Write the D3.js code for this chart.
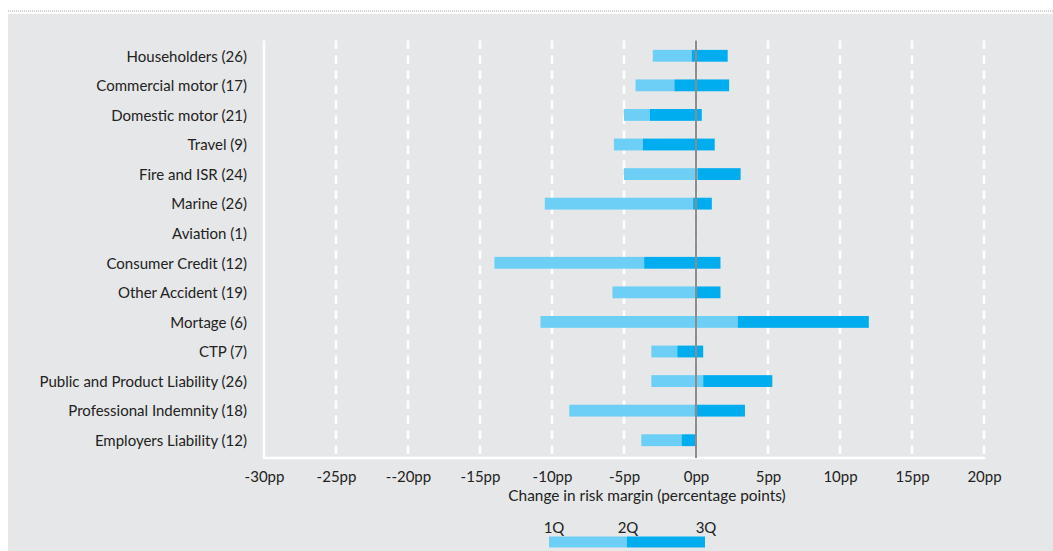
<!DOCTYPE html>
<html>
<head>
<meta charset="utf-8">
<script src="https://cdn.jsdelivr.net/npm/d3@7"></script>
<style>
  html, body { margin: 0; padding: 0; background: #ffffff; }
  svg { display: block; }
  text { font-family: Lato, "Open Sans", sans-serif; fill: #222222; }
</style>
</head>
<body>
<svg id="chart" width="1053" height="551"></svg>
<script>
// Lines of business (number of insurers in brackets), top to bottom
const categories = [
  "Householders (26)", "Commercial motor (17)", "Domestic motor (21)", "Travel (9)",
  "Fire and ISR (24)", "Marine (26)", "Aviation (1)", "Consumer Credit (12)",
  "Other Accident (19)", "Mortage (6)", "CTP (7)", "Public and Product Liability (26)",
  "Professional Indemnity (18)", "Employers Liability (12)"
];
// Change in risk margin, percentage points: first quartile, median, third quartile
const q1 = [-3.0, -4.2, -5.0, -5.7, -5.0, -10.5, null, -14.0, -5.8, -10.8, -3.1, -3.1, -8.8, -3.8];
const q2 = [-0.3, -1.5, -3.2, -3.7,  0.1,  -0.2, null,  -3.6,  0.0,   2.9, -1.3,  0.5, -0.1, -1.0];
const q3 = [ 2.2,  2.3,  0.4,  1.3,  3.1,   1.1, null,   1.7,  1.7,  12.0,  0.5,  5.3,  3.4,  0.0];

const tickValues = [-30, -25, -20, -15, -10, -5, 0, 5, 10, 15, 20];
const tickLabels = ["-30pp", "-25pp", "--20pp", "-15pp", "-10pp", "-5pp", "0pp", "5pp", "10pp", "15pp", "20pp"];
const legendLabels = ["1Q", "2Q", "3Q"];

const LIGHT = "#6dcff6", DARK = "#00aeef";

const svg = d3.select("#chart");
const W = 1053, H = 551;

// panel background and dotted rule above it
svg.append("rect").attr("x", 8).attr("y", 14).attr("width", W - 8).attr("height", H - 14).attr("fill", "#e6e7e8");
svg.append("line").attr("x1", 8).attr("x2", W).attr("y1", 11).attr("y2", 11)
  .attr("stroke", "#a6a6a6").attr("stroke-width", 1).attr("stroke-dasharray", "1,1");

const x = d3.scaleLinear().domain([-30, 20]).range([264, 984]);
const y = d3.scalePoint().domain(categories).range([41, 455]).padding(0.5);
const barH = y.step() * 0.4;
const plotTop = 40.5, plotBase = 458;

// dashed vertical gridlines
svg.append("g").selectAll("line").data(tickValues.slice(1)).join("line")
  .attr("x1", d => x(d)).attr("x2", d => x(d))
  .attr("y1", plotTop).attr("y2", plotBase)
  .attr("stroke", "#ffffff").attr("stroke-width", 2.5).attr("stroke-dasharray", "8.5,6.5");

// axis frame: left and bottom solid white lines
svg.append("line").attr("x1", x(-30)).attr("x2", x(-30)).attr("y1", plotTop).attr("y2", plotBase)
  .attr("stroke", "#ffffff").attr("stroke-width", 2.5);
svg.append("line").attr("x1", x(-30) - 1.25).attr("x2", x(20) + 1.25).attr("y1", plotBase).attr("y2", plotBase)
  .attr("stroke", "#ffffff").attr("stroke-width", 2.5);

// bottom axis labels
const xAxis = d3.axisBottom(x).tickValues(tickValues).tickSize(0).tickPadding(0)
  .tickFormat((d, i) => tickLabels[i]);
const gx = svg.append("g").attr("transform", `translate(0,${plotBase})`).call(xAxis);
gx.select(".domain").remove();
gx.selectAll("text").attr("dy", null).attr("y", 23.5).style("font-size", "15px").attr("fill", "#222222");

svg.append("text").attr("x", 647).attr("y", 500.5).attr("text-anchor", "middle")
  .style("font-size", "15.4px").text("Change in risk margin (percentage points)");

// category labels
const yAxis = d3.axisLeft(y).tickSize(0).tickPadding(0);
const gy = svg.append("g").attr("transform", "translate(247,0)").call(yAxis);
gy.select(".domain").remove();
gy.selectAll("text").style("font-size", "15px").attr("fill", "#222222").attr("dy", "0.35em");

// quartile bars
const rows = categories.map((c, i) => ({ c, q1: q1[i], q2: q2[i], q3: q3[i] })).filter(d => d.q1 !== null);
const bars = svg.append("g");
bars.selectAll("rect.low").data(rows).join("rect").attr("class", "low")
  .attr("x", d => x(d.q1)).attr("width", d => x(d.q2) - x(d.q1))
  .attr("y", d => y(d.c) - barH / 2).attr("height", barH).attr("fill", LIGHT);
bars.selectAll("rect.high").data(rows).join("rect").attr("class", "high")
  .attr("x", d => x(d.q2)).attr("width", d => x(d.q3) - x(d.q2))
  .attr("y", d => y(d.c) - barH / 2).attr("height", barH).attr("fill", DARK);

// zero reference line
svg.append("line").attr("x1", x(0)).attr("x2", x(0)).attr("y1", plotTop).attr("y2", plotBase)
  .attr("stroke", "#8c8c8c").attr("stroke-width", 2);

// legend: light segment spans 1Q to 2Q, dark segment 2Q to 3Q
const lg = d3.scaleLinear().domain([0, 2]).range([549, 705]);
svg.append("rect").attr("x", lg(0)).attr("width", lg(1) - lg(0)).attr("y", 536.5).attr("height", 11).attr("fill", LIGHT);
svg.append("rect").attr("x", lg(1)).attr("width", lg(2) - lg(1)).attr("y", 536.5).attr("height", 11).attr("fill", DARK);
svg.append("g").selectAll("text").data(legendLabels).join("text")
  .attr("x", (d, i) => lg(i) + (i === 0 ? 5 : 1)).attr("y", 533).attr("text-anchor", "middle")
  .style("font-size", "15px").text(d => d);
</script>
</body>
</html>
